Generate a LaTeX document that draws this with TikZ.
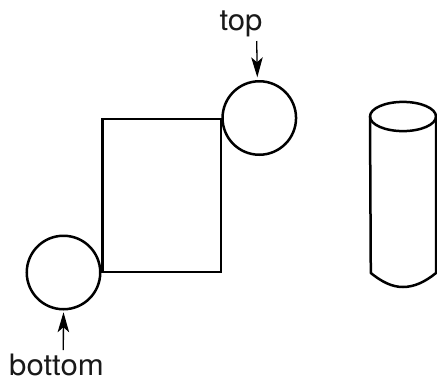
\documentclass[tikz,border=0pt]{standalone}
\usepackage{fontspec}
\setmainfont{TeX Gyre Heros}
\usetikzlibrary{arrows.meta}
\tikzset{
  shapeline/.style={draw=black,line width=2.5pt},
  ball/.style={shapeline,circle,minimum size=73.5pt,inner sep=0pt,outer sep=0pt},
  lbl/.style={font=\fontsize{29.5pt}{32pt}\selectfont,inner sep=0pt,text=black!90},
  pointer/.style={line width=1.3pt,-{Stealth[length=20pt,width=11.5pt,inset=5pt]}}
}
\begin{document}
\begin{tikzpicture}[x=1pt,y=-1pt]
\useasboundingbox (0,0) rectangle (437,381);
\draw[shapeline,line join=miter] (102.5,119) rectangle (221,272);
\node[ball] (topc) at (259.3,118) {};
\node[ball] (botc) at (63.5,272.5) {};
\node[lbl,anchor=base] (toplabel) at (241,30.5) {\scalebox{1.055}[1]{top}};
\node[lbl,anchor=base] (botlabel) at (56.5,375.5) {\scalebox{1.055}[1]{bottom}};
\coordinate (toptail) at (256.7,41);
\coordinate (bottail) at (63.3,350);
\draw[pointer,shorten >=4pt] (toptail) -- (topc.93.5);
\draw[pointer,shorten >=3pt] (bottail) -- (botc.-90.3);
% cylinder
\draw[shapeline] (403,116.5) ellipse [x radius=33,y radius=14.6];
\draw[shapeline,line join=round] (370,116.5) -- (370.8,273) .. controls (382,282) and (392,287) .. (403,287) .. controls (414,287) and (425,282) .. (436,273) -- (436,116.5);
\end{tikzpicture}
\end{document}
